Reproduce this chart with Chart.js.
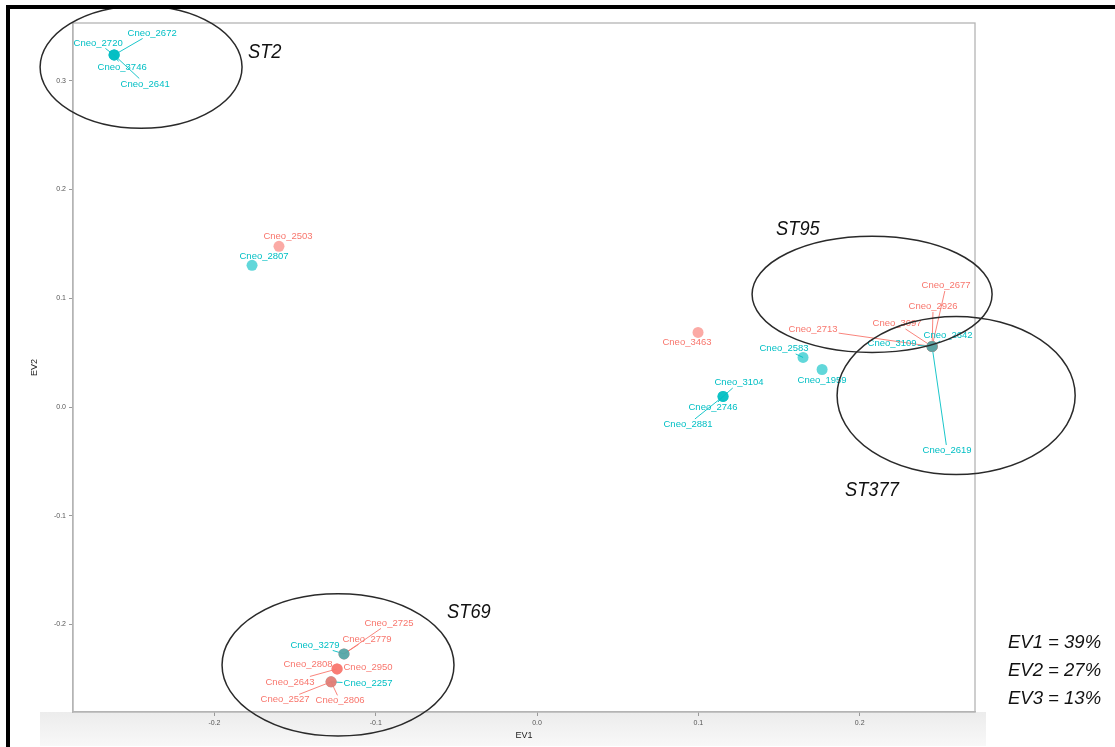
<!DOCTYPE html>
<html>
<head>
<meta charset="utf-8">
<script src="https://cdn.jsdelivr.net/npm/chart.js@4.4.1/dist/chart.umd.min.js"></script>
<style>
  html, body { margin: 0; padding: 0; background: #fff; }
  #wrap { position: relative; width: 1115px; height: 747px; overflow: hidden; }
  #wrap canvas { position: absolute; left: 0; top: 0; }
  .frame-top { position: absolute; left: 6px; top: 5px; width: 1109px; height: 4px; background: #000; }
  .frame-left { position: absolute; left: 6px; top: 5px; width: 4px; height: 742px; background: #000; }
</style>
</head>
<body>
<div id="wrap">
  <canvas id="pca" width="1115" height="747"></canvas>
  <div class="frame-top"></div>
  <div class="frame-left"></div>
</div>
<script>
// Isolates with their coordinates on the first two eigenvectors (drawn in this order)
const isolates = [
  'Cneo_2672', 'Cneo_2720', 'Cneo_3746', 'Cneo_2641',
  'Cneo_2503', 'Cneo_2807', 'Cneo_3463', 'Cneo_2583', 'Cneo_1959',
  'Cneo_3104', 'Cneo_2746', 'Cneo_2881',
  'Cneo_2619', 'Cneo_2642', 'Cneo_2677', 'Cneo_2926', 'Cneo_3097', 'Cneo_2713', 'Cneo_3109',
  'Cneo_2725', 'Cneo_2779', 'Cneo_3279',
  'Cneo_2808', 'Cneo_2950', 'Cneo_2643',
  'Cneo_2257', 'Cneo_2527', 'Cneo_2806'
];
const ev1 = [
  -0.2622, -0.2622, -0.2622, -0.2622,
  -0.1600, -0.1767, 0.0998, 0.1649, 0.1767,
  0.1153, 0.1153, 0.1153,
  0.2449, 0.2449, 0.2449, 0.2449, 0.2449, 0.2449, 0.2449,
  -0.1197, -0.1197, -0.1197,
  -0.1240, -0.1240, -0.1240,
  -0.1277, -0.1277, -0.1277
];
const ev2 = [
  0.3237, 0.3237, 0.3237, 0.3237,
  0.1478, 0.1303, 0.0686, 0.0456, 0.0345,
  0.0097, 0.0097, 0.0097,
  0.0557, 0.0557, 0.0557, 0.0557, 0.0557, 0.0557, 0.0557,
  -0.2270, -0.2270, -0.2270,
  -0.2408, -0.2408, -0.2408,
  -0.2527, -0.2527, -0.2527
];
const clade = [
  'B', 'B', 'B', 'B',
  'A', 'B', 'A', 'B', 'B',
  'B', 'B', 'B',
  'B', 'B', 'A', 'A', 'A', 'A', 'B',
  'A', 'A', 'B',
  'A', 'A', 'A',
  'B', 'A', 'A'
];

// Sequence-type groups circled on the plot
const stNames = ['ST2', 'ST95', 'ST377', 'ST69'];
const stCentreEv1 = [-0.2455, 0.2077, 0.2598, -0.1234];
const stCentreEv2 = [0.3126, 0.1036, 0.0106, -0.2371];
const stRadiusEv1 = [0.0626, 0.0744, 0.0738, 0.0719];
const stRadiusEv2 = [0.0562, 0.0534, 0.0727, 0.0654];
const stLabelEv1 = [-0.1792, 0.1482, 0.1909, -0.0558];
const stLabelEv2 = [0.3209, 0.1579, -0.0815, -0.1938];

// Variance explained by each eigenvector (%)
const evNames = ['EV1', 'EV2', 'EV3'];
const evPercent = [39, 27, 13];

// Axis ticks
const xTicks = [-0.2, -0.1, 0.0, 0.1, 0.2];
const yTicks = [-0.2, -0.1, 0.0, 0.1, 0.2, 0.3];

// Label placement (pixel offsets of each label centre from its point)
const labelOffset = {
  Cneo_2672: [38, -22], Cneo_2720: [-16, -12], Cneo_3746: [8, 12], Cneo_2641: [31, 29],
  Cneo_2503: [9, -10], Cneo_2807: [12, -9], Cneo_3463: [-11, 10], Cneo_2583: [-19, -9],
  Cneo_1959: [0, 11], Cneo_3104: [16, -14], Cneo_2746: [-10, 11], Cneo_2881: [-35, 28],
  Cneo_2677: [14, -61], Cneo_2926: [1, -40], Cneo_3097: [-35, -23], Cneo_2713: [-119, -17],
  Cneo_3109: [-40, -3], Cneo_2642: [16, -11], Cneo_2619: [15, 104],
  Cneo_3279: [-29, -9], Cneo_2725: [45, -31], Cneo_2779: [23, -15],
  Cneo_2808: [-29, -5], Cneo_2950: [31, -2], Cneo_2643: [-47, 13],
  Cneo_2527: [-46, 18], Cneo_2806: [9, 19], Cneo_2257: [37, 2]
};

const cladeColour = { A: '#F8766D', B: '#00BFC4' };
const cladeFill = { A: 'rgba(248,118,109,0.62)', B: 'rgba(0,191,196,0.62)' };
const FONT = "'Liberation Sans', Arial, Helvetica, sans-serif";

// One layer, painted in row order so overlapping points blend like the original plot
const pointsDataset = {
  label: 'isolates',
  data: isolates.map((_, i) => ({ x: ev1[i], y: ev2[i] })),
  names: isolates,
  pointBackgroundColor: clade.map(c => cladeFill[c]),
  pointBorderWidth: 0,
  pointRadius: 5.5,
  pointHoverRadius: 5.5
};

// Where the segment from the point towards the label centre meets the label box
function boxHit(px, py, cx, cy, hw, hh) {
  const dx = px - cx, dy = py - cy;
  if (Math.abs(dx) <= hw && Math.abs(dy) <= hh) return null;
  const tx = dx !== 0 ? hw / Math.abs(dx) : Infinity;
  const ty = dy !== 0 ? hh / Math.abs(dy) : Infinity;
  const t = Math.min(tx, ty);
  return [cx + dx * t, cy + dy * t];
}

function eachLabel(chart, fn) {
  const ctx = chart.ctx;
  ctx.font = '9.5px ' + FONT;
  const meta = chart.getDatasetMeta(0);
  meta.data.forEach((pt, i) => {
    const name = isolates[i];
    const off = labelOffset[name] || [0, -10];
    const w = ctx.measureText(name).width;
    fn(ctx, pt.x, pt.y, pt.x + off[0], pt.y + off[1], w, name, cladeColour[clade[i]]);
  });
}

const labelPlugin = {
  id: 'isolateLabels',
  beforeDatasetsDraw(chart) {
    chart.ctx.save();
    eachLabel(chart, (ctx, px, py, cx, cy, w, name, col) => {
      const hit = boxHit(px, py, cx, cy, w / 2 + 1, 5.5);
      if (!hit) return;
      if (Math.hypot(hit[0] - px, hit[1] - py) < 7) return;
      ctx.strokeStyle = col;
      ctx.lineWidth = 0.9;
      ctx.beginPath();
      ctx.moveTo(px, py);
      ctx.lineTo(hit[0], hit[1]);
      ctx.stroke();
    });
    chart.ctx.restore();
  },
  afterDatasetsDraw(chart) {
    chart.ctx.save();
    eachLabel(chart, (ctx, px, py, cx, cy, w, name, col) => {
      ctx.fillStyle = col;
      ctx.textAlign = 'center';
      ctx.textBaseline = 'middle';
      ctx.fillText(name, cx, cy);
    });
    chart.ctx.restore();
  }
};

const panelPlugin = {
  id: 'panel',
  beforeDraw(chart) {
    const ctx = chart.ctx;
    ctx.save();
    const g = ctx.createLinearGradient(0, 712, 0, 746);
    g.addColorStop(0, '#ececec');
    g.addColorStop(1, '#f8f8f8');
    ctx.fillStyle = g;
    ctx.fillRect(40, 712, 946, 34);
    ctx.restore();
  },
  beforeDatasetsDraw(chart) {
    const { ctx, chartArea: a } = chart;
    ctx.save();
    ctx.strokeStyle = '#b4b4b4';
    ctx.lineWidth = 1.3;
    ctx.strokeRect(a.left, a.top, a.right - a.left, a.bottom - a.top);
    ctx.restore();
  }
};

const groupPlugin = {
  id: 'stGroups',
  afterDraw(chart) {
    const { ctx, scales: { x, y } } = chart;
    ctx.save();
    stNames.forEach((name, i) => {
      const cx = x.getPixelForValue(stCentreEv1[i]);
      const cy = y.getPixelForValue(stCentreEv2[i]);
      const rx = Math.abs(x.getPixelForValue(stCentreEv1[i] + stRadiusEv1[i]) - cx);
      const ry = Math.abs(y.getPixelForValue(stCentreEv2[i] + stRadiusEv2[i]) - cy);
      ctx.strokeStyle = '#2a2a2a';
      ctx.lineWidth = 1.5;
      ctx.beginPath();
      ctx.ellipse(cx, cy, rx, ry, 0, 0, Math.PI * 2);
      ctx.stroke();

      const lx = x.getPixelForValue(stLabelEv1[i]);
      const ly = y.getPixelForValue(stLabelEv2[i]);
      ctx.save();
      ctx.translate(lx, ly);
      ctx.scale(0.87, 1);
      ctx.font = 'italic 21px ' + FONT;
      ctx.fillStyle = '#111';
      ctx.textAlign = 'left';
      ctx.textBaseline = 'alphabetic';
      ctx.fillText(name, 0, 0);
      ctx.restore();
    });

    ctx.font = 'italic 18.5px ' + FONT;
    ctx.fillStyle = '#111';
    ctx.textAlign = 'left';
    ctx.textBaseline = 'alphabetic';
    evNames.forEach((n, i) => {
      ctx.fillText(n + ' = ' + evPercent[i] + '%', 1008, 648 + i * 28);
    });
    ctx.restore();
  }
};

const tickFont = { size: 7, family: FONT };

new Chart(document.getElementById('pca'), {
  type: 'scatter',
  data: { datasets: [pointsDataset] },
  options: {
    responsive: false,
    animation: false,
    events: [],
    layout: { padding: { top: 23, right: 140, left: 0, bottom: 0 } },
    plugins: { legend: { display: false }, tooltip: { enabled: false } },
    scales: {
      x: {
        type: 'linear',
        min: -0.2877,
        max: 0.2715,
        afterFit(s) { s.height = 35; },
        afterBuildTicks(s) { s.ticks = xTicks.map(v => ({ value: v })); },
        ticks: {
          callback: v => v.toFixed(1),
          font: tickFont, color: '#555', padding: 3, maxRotation: 0, autoSkip: false
        },
        grid: { drawOnChartArea: false, tickLength: 4, color: '#9a9a9a' },
        border: { color: '#b4b4b4', width: 1.3 },
        title: { display: true, text: 'EV1', font: { size: 9, family: FONT }, color: '#222', padding: { top: 0, bottom: 6 } }
      },
      y: {
        type: 'linear',
        min: -0.2804,
        max: 0.3531,
        afterFit(s) { s.width = 73; },
        afterBuildTicks(s) { s.ticks = yTicks.map(v => ({ value: v })); },
        ticks: {
          callback: v => v.toFixed(1),
          font: tickFont, color: '#555', padding: 3, autoSkip: false
        },
        grid: { drawOnChartArea: false, tickLength: 4, color: '#9a9a9a' },
        border: { color: '#b4b4b4', width: 1.3 },
        title: { display: true, text: 'EV2', font: { size: 9, family: FONT }, color: '#222', padding: { top: 29, bottom: 0 } }
      }
    }
  },
  plugins: [panelPlugin, labelPlugin, groupPlugin]
});
</script>
</body>
</html>
